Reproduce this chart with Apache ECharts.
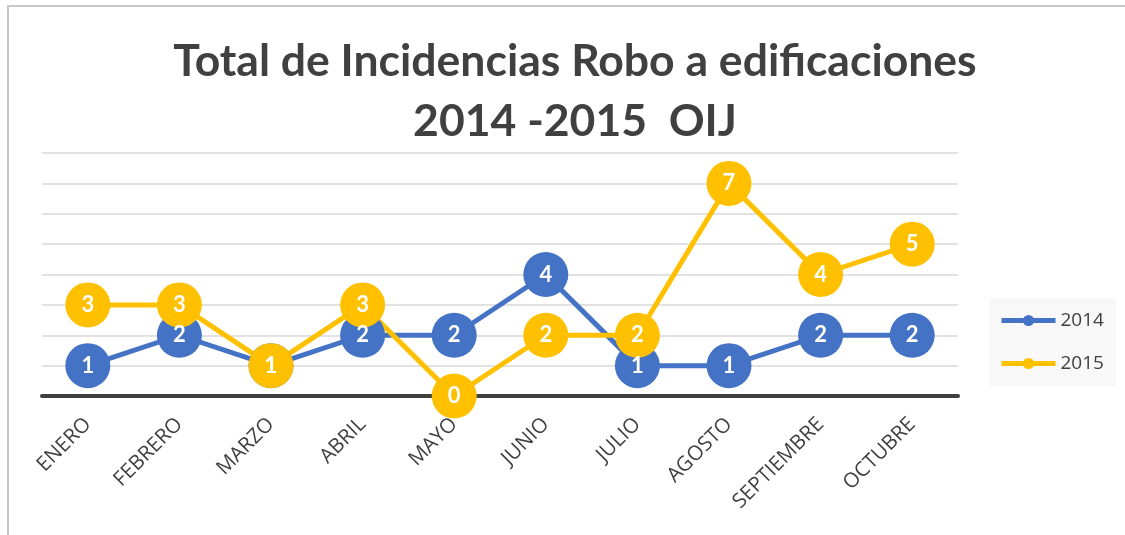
<!DOCTYPE html>
<html>
<head>
<meta charset="utf-8">
<script src="https://cdn.jsdelivr.net/npm/echarts@6/dist/echarts.min.js"></script>
<style>
  html, body { margin: 0; padding: 0; background: #fff; }
  #chart { width: 1125px; height: 535px; }
</style>
</head>
<body>
<div id="chart"></div>
<script>
// Monthly incident counts for building burglaries (OIJ)
const months = ['ENERO', 'FEBRERO', 'MARZO', 'ABRIL', 'MAYO', 'JUNIO', 'JULIO', 'AGOSTO', 'SEPTIEMBRE', 'OCTUBRE'];
const values2014 = [1, 2, 1, 2, 2, 4, 1, 1, 2, 2];
const values2015 = [3, 3, 1, 3, 0, 2, 2, 7, 4, 5];
const seriesNames = ['2014', '2015'];
const titleLines = ['Total de Incidencias Robo a edificaciones', '2014 -2015  OIJ'];

const blue = '#4472c4';
const gold = '#ffc000';
const fontFamily = 'Lato, "Open Sans", "Liberation Sans", sans-serif';
const textFont = '"Open Sans", Lato, "Liberation Sans", sans-serif';

const chart = echarts.init(document.getElementById('chart'), null, { renderer: 'canvas' });

function lineSeries(name, data, color) {
  return {
    name: name,
    type: 'line',
    data: data,
    symbol: 'circle',
    symbolSize: 45,
    lineStyle: { color: color, width: 5 },
    itemStyle: { color: color },
    label: {
      show: true,
      position: 'inside',
      color: '#ffffff',
      fontFamily: fontFamily,
      fontWeight: 'bold',
      fontSize: 22
    },
    emphasis: { disabled: true },
    animation: false
  };
}

chart.setOption({
  backgroundColor: '#ffffff',
  graphic: [{
    type: 'rect',
    shape: { x: 8, y: 6, width: 1200, height: 600 },
    style: { fill: 'none', stroke: '#c8c8c8', lineWidth: 2 },
    silent: true,
    z: -1
  }],
  title: {
    text: titleLines.join('\n'),
    left: 570,
    textAlign: 'center',
    top: 27,
    textStyle: {
      fontFamily: fontFamily,
      fontWeight: 'bold',
      fontSize: 44.5,
      lineHeight: 60,
      color: '#404040'
    }
  },
  legend: {
    orient: 'vertical',
    left: 989,
    top: 298,
    width: 128,
    padding: [13, 12, 13, 10],
    itemGap: 24,
    itemWidth: 54,
    itemHeight: 14,
    backgroundColor: '#f8f8f8',
    lineStyle: { width: 5 },
    textStyle: { fontFamily: textFont, fontSize: 19, color: '#404040' },
    data: seriesNames
  },
  grid: { left: 42, right: 167, top: 153, bottom: 139, containLabel: false },
  xAxis: {
    type: 'category',
    data: months,
    boundaryGap: true,
    axisLine: { show: true, lineStyle: { color: '#404040', width: 4 } },
    axisTick: { show: false },
    axisLabel: {
      rotate: 45,
      margin: 25,
      fontFamily: textFont,
      fontSize: 20.5,
      color: '#404040'
    }
  },
  yAxis: {
    type: 'value',
    min: 0,
    max: 8,
    interval: 1,
    axisLine: { show: false },
    axisTick: { show: false },
    axisLabel: { show: false },
    splitLine: { lineStyle: { color: '#d9d9d9', width: 1.5 } }
  },
  series: [
    lineSeries(seriesNames[0], values2014, blue),
    lineSeries(seriesNames[1], values2015, gold)
  ]
});
</script>
</body>
</html>
